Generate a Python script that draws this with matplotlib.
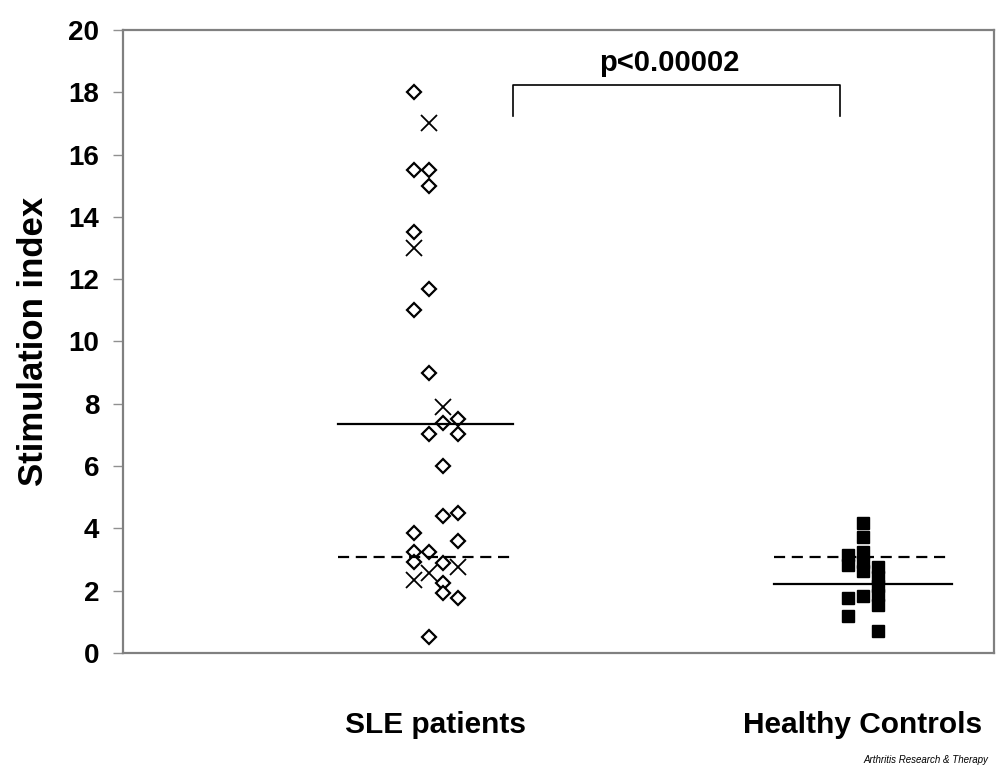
import matplotlib.pyplot as plt

plt.rcParams['font.family'] = ['Liberation Sans', 'DejaVu Sans']

# SLE patients: open diamonds and crosses (value, jitter slot)
sle_diamond = [18.0, 15.5, 15.5, 15.0, 13.5, 11.7, 11.0, 9.0, 7.5, 7.38, 7.03, 7.03,
               6.0, 4.4, 4.5, 3.85, 3.6, 3.25, 3.25, 2.93, 2.88, 2.24, 1.92, 1.76, 0.52]
sle_diamond_slot = [-1.5, -1.5, -0.5, -0.5, -1.5, -0.5, -1.5, -0.5, 1.5, 0.5, -0.5, 1.5,
                    0.5, 0.5, 1.5, -1.5, 1.5, -1.5, -0.5, -1.5, 0.5, 0.5, 0.5, 1.5, -0.5]
sle_cross = [17.0, 13.0, 7.9, 2.58, 2.77, 2.34]
sle_cross_slot = [-0.5, -1.5, 0.5, -0.5, 1.5, -1.5]

# Healthy controls: filled squares
hc_values = [3.13, 2.81, 1.77, 1.19,
             4.17, 3.72, 3.24, 2.92, 2.63, 1.84,
             2.75, 2.45, 2.15, 1.85, 1.55, 0.72]
hc_slot = [-1, -1, -1, -1,
           0, 0, 0, 0, 0, 0,
           1, 1, 1, 1, 1, 1]

categories = ['SLE patients', 'Healthy Controls']
sle_median = 7.35
hc_median = 2.2
cutoff = 3.07
p_text = 'p<0.00002'

step = 0.0344

fig = plt.figure(figsize=(10.04, 7.73), dpi=100)
ax = fig.add_axes([0.1225, 0.1553, 0.8675, 0.8059])

ax.plot([1 + s * step for s in sle_diamond_slot], sle_diamond, linestyle='none',
        marker='D', ms=6.8, mfc='white', mec='black', mew=1.6)
ax.plot([1 + s * step for s in sle_cross_slot], sle_cross, linestyle='none',
        marker='x', ms=11.5, mec='black', mew=1.3)
ax.plot([2 + s * step for s in hc_slot], hc_values, linestyle='none',
        marker='s', ms=8.3, mfc='black', mec='black')

# mean lines and cutoff
ax.plot([0.770, 1.180], [sle_median, sle_median], color='black', lw=1.6)
ax.plot([0.770, 1.180], [cutoff, cutoff], color='black', lw=1.6, dashes=(5, 3))
ax.plot([1.792, 2.208], [hc_median, hc_median], color='black', lw=1.6)
ax.plot([1.792, 2.204], [cutoff, cutoff], color='black', lw=1.6, dashes=(5, 3))

# significance bracket
ax.plot([1.18, 1.18, 1.946, 1.946], [17.24, 18.23, 18.23, 17.24], color='black', lw=1.2)
ax.text(1.546, 18.5, p_text, ha='center', va='bottom', fontsize=21, fontweight='bold')

ax.set_xlim(0.267, 2.307)
ax.set_ylim(0, 20)
ax.set_yticks(range(0, 21, 2))
ax.set_xticks([1, 2])
ax.set_xticklabels(categories, fontsize=21.5, fontweight='bold')
ax.tick_params(axis='x', length=0, pad=42)
ax.tick_params(axis='y', length=7, width=1, color='#909090', labelsize=20, pad=10)
for lab in ax.get_yticklabels():
    lab.set_fontweight('bold')
ax.set_ylabel('Stimulation index', fontsize=25, fontweight='bold', labelpad=13)
for sp in ax.spines.values():
    sp.set_color('#808080')
    sp.set_linewidth(1.6)

fig.text(0.984, 0.01, 'Arthritis Research & Therapy', ha='right', va='bottom',
         fontsize=7, style='italic')

fig.savefig('out.png', dpi=100)
